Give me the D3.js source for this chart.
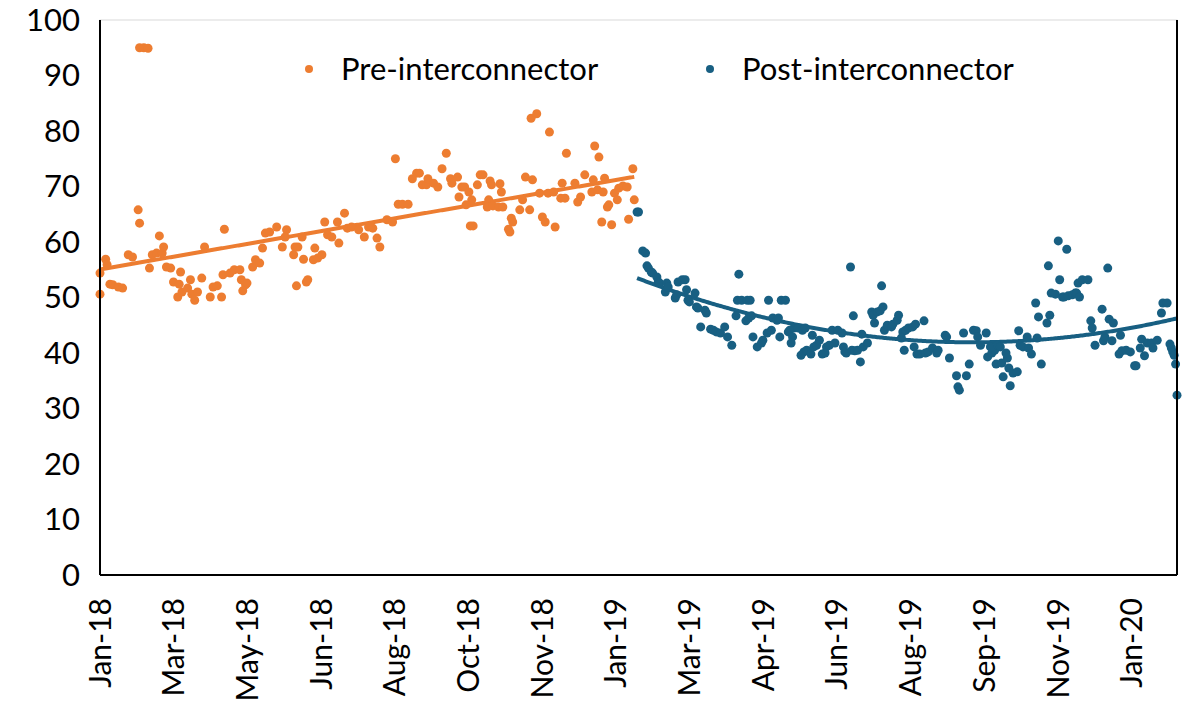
<!DOCTYPE html>
<html>
<head>
<meta charset="utf-8">
<script src="https://cdn.jsdelivr.net/npm/d3@7"></script>
<style>
  body { margin: 0; background: #fff; }
  svg { display: block; font-family: Lato, sans-serif; }
</style>
</head>
<body>
<svg id="chart" width="1189" height="704"></svg>
<script>
// x = days since 1 Jan 2018, y = price
const preData = [
  [0,50.6],[0,54.4],[4,56.9],[5,55.9],[7,52.4],[9,52.3],[13,51.9],[16,51.7],[20,57.7],[23,57.3],
  [27,65.8],[28,63.4],[28,95.0],[31,95.0],[34,94.9],[35,55.3],[37,57.7],[40,58.0],[44,58.0],[42,61.1],
  [45,59.1],[47,55.5],[50,55.3],[52,52.8],[57,54.6],[55,50.1],[58,51.0],[56,52.4],[64,53.2],[62,51.7],
  [65,50.6],[67,49.5],[69,51.0],[72,53.5],[74,59.1],[78,50.1],[80,51.9],[83,52.1],[86,50.1],[87,54.1],
  [88,62.3],[92,54.4],[95,55.0],[99,55.0],[100,53.2],[103,52.3],[104,52.6],[101,51.2],[108,55.5],[110,56.8],
  [113,56.2],[115,58.9],[117,61.6],[120,61.8],[125,62.7],[132,62.2],[131,60.9],[129,59.1],[138,59.1],[140,59.1],
  [137,57.7],[144,56.9],[143,60.9],[151,56.8],[154,57.1],[157,57.7],[152,58.9],[139,52.1],[146,52.8],[147,53.2],
  [159,63.6],[161,61.3],[164,60.9],[168,63.6],[173,65.2],[169,59.8],[175,62.5],[178,62.7],[183,62.2],[187,60.9],
  [190,62.7],[193,62.5],[196,60.7],[198,59.1],[203,64.0],[207,63.6],[209,75.0],[211,66.8],[214,66.8],[218,66.8],
  [221,71.4],[224,72.4],[226,72.4],[228,70.3],[231,70.3],[232,71.4],[236,70.6],[239,69.9],[242,73.2],[245,76.0],
  [248,71.4],[249,70.6],[253,71.7],[256,69.9],[254,68.1],[262,62.9],[258,69.9],[261,69.0],[263,67.6],[259,66.7],
  [267,70.3],[269,72.1],[271,72.1],[264,62.9],[276,71.0],[277,70.3],[275,67.6],[274,66.3],[278,66.5],[282,66.3],
  [285,66.3],[283,70.5],[284,69.0],[291,64.3],[292,63.6],[289,62.3],[290,61.8],[297,65.8],[299,67.6],[301,71.7],
  [306,71.2],[304,65.8],[305,82.3],[309,83.1],[313,64.5],[315,63.6],[318,79.8],[322,62.7],[311,68.8],[317,68.8],
  [321,69.0],[327,70.6],[326,67.9],[329,67.9],[330,76.0],[336,70.6],[340,68.1],[338,67.2],[343,72.1],[348,69.0],
  [352,69.4],[349,71.2],[350,77.3],[353,75.3],[357,71.5],[356,69.0],[359,66.3],[360,66.7],[355,63.6],[362,63.1],
  [364,68.8],[366,67.6],[367,69.7],[370,70.1],[373,69.9],[377,73.2],[378,67.6],[374,64.1]
];

const postData = [
  [380,65.4],[381,65.4],[384,58.4],[386,58.0],[387,55.7],[388,55.3],[390,54.6],[391,54.4],[394,53.7],[395,52.8],
  [396,52.6],[400,51.0],[401,52.6],[402,51.9],[407,49.9],[408,50.5],[409,52.8],[412,53.2],[414,53.2],[415,51.4],
  [416,49.5],[417,49.2],[421,50.8],[422,48.3],[423,48.1],[428,47.7],[429,47.2],[425,44.7],[432,44.3],[434,44.1],
  [436,43.8],[439,43.6],[442,44.7],[444,42.9],[447,41.4],[452,54.2],[451,49.5],[454,49.5],[458,49.5],[460,49.5],
  [450,46.7],[457,45.8],[459,46.3],[461,46.7],[462,42.9],[465,41.1],[468,41.8],[469,42.3],[473,49.5],[472,43.6],
  [475,44.1],[476,46.3],[479,45.9],[480,46.3],[481,42.9],[482,49.5],[485,49.5],[487,43.8],[488,44.1],[490,42.9],
  [489,41.8],[491,44.5],[494,44.5],[497,44.1],[499,44.5],[498,40.2],[496,39.6],[500,40.5],[504,43.2],[503,39.8],
  [505,41.1],[507,41.4],[509,42.3],[511,39.8],[513,40.0],[514,41.1],[516,41.4],[520,41.8],[518,44.1],[522,44.1],
  [525,43.6],[526,41.1],[527,40.2],[528,40.0],[531,55.5],[533,46.7],[532,40.5],[534,40.4],[536,40.5],[538,38.4],
  [540,41.1],[543,41.8],[539,43.4],[546,47.4],[547,46.8],[550,47.4],[552,47.6],[554,48.3],[548,45.4],[553,52.1],
  [555,44.1],[557,45.0],[560,44.7],[561,45.2],[564,45.9],[565,46.8],[568,43.8],[569,40.5],[570,44.1],[572,44.5],
  [575,44.7],[577,45.2],[567,42.7],[576,41.1],[578,39.8],[580,39.8],[584,40.0],[586,40.2],[583,45.8],[589,40.9],
  [592,40.0],[593,40.5],[598,43.2],[599,42.9],[601,39.1],[606,35.9],[607,33.9],[608,33.3],[611,43.6],[613,35.9],
  [615,38.0],[618,44.1],[620,44.0],[621,42.9],[623,41.4],[627,43.6],[628,39.3],[631,40.0],[633,40.5],[630,41.1],
  [635,41.4],[637,41.1],[634,38.0],[638,38.2],[642,39.1],[643,37.3],[641,40.0],[644,34.1],[639,35.7],[646,36.4],
  [649,36.6],[650,44.0],[651,41.4],[653,41.1],[656,42.9],[657,40.9],[659,39.8],[662,49.0],[664,46.5],[663,42.7],
  [666,38.0],[671,55.7],[670,45.4],[672,46.8],[673,50.8],[676,50.6],[678,60.2],[684,58.7],[679,53.2],[681,50.1],
  [682,50.1],[685,50.3],[688,50.5],[690,50.8],[691,50.8],[693,50.1],[692,52.6],[695,53.2],[699,53.2],[701,45.8],
  [702,44.5],[704,41.4],[709,47.9],[710,42.2],[711,42.9],[713,55.3],[714,46.1],[717,45.4],[716,42.2],[722,43.2],
  [721,39.8],[723,40.4],[726,40.5],[729,40.2],[732,37.7],[733,37.7],[736,40.9],[737,42.5],[739,39.5],[741,41.8],
  [744,41.8],[745,40.9],[748,42.3],[752,49.0],[755,49.0],[751,47.2],[757,41.6],[758,40.9],[759,40.2],[760,39.6],
  [761,38.0],[762,32.4]
];

const xTickLabels = ['Jan-18','Mar-18','May-18','Jun-18','Aug-18','Oct-18','Nov-18','Jan-19',
                     'Mar-19','Apr-19','Jun-19','Aug-19','Sep-19','Nov-19','Jan-20'];
const yTicks = [0, 10, 20, 30, 40, 50, 60, 70, 80, 90, 100];
const seriesNames = ['Pre-interconnector', 'Post-interconnector'];
const colors = ['#ED7D31', '#185F82'];

const svg = d3.select('#chart');
const plotLeft = 100, plotRight = 1177, plotTop = 20, plotBottom = 575;

const x = d3.scaleLinear().domain([0, 762]).range([plotLeft, plotRight]);
const y = d3.scaleLinear().domain([0, 100]).range([plotBottom, plotTop]);

// least squares polynomial fit (Excel style trendline)
function polyFit(data, order) {
  const n = order + 1;
  const A = Array.from({length: n}, () => new Array(n + 1).fill(0));
  data.forEach(([xv, yv]) => {
    for (let i = 0; i < n; i++) {
      for (let j = 0; j < n; j++) A[i][j] += Math.pow(xv, i + j);
      A[i][n] += yv * Math.pow(xv, i);
    }
  });
  // gaussian elimination
  for (let i = 0; i < n; i++) {
    let p = i;
    for (let k = i + 1; k < n; k++) if (Math.abs(A[k][i]) > Math.abs(A[p][i])) p = k;
    [A[i], A[p]] = [A[p], A[i]];
    for (let k = i + 1; k < n; k++) {
      const f = A[k][i] / A[i][i];
      for (let j = i; j <= n; j++) A[k][j] -= f * A[i][j];
    }
  }
  const c = new Array(n).fill(0);
  for (let i = n - 1; i >= 0; i--) {
    let s = A[i][n];
    for (let j = i + 1; j < n; j++) s -= A[i][j] * c[j];
    c[i] = s / A[i][i];
  }
  return xv => c.reduce((s, ci, i) => s + ci * Math.pow(xv, i), 0);
}

// plot frame
svg.append('rect')
  .attr('x', plotLeft).attr('y', plotTop)
  .attr('width', plotRight - plotLeft).attr('height', plotBottom - plotTop)
  .attr('fill', 'none').attr('stroke', '#d9d9d9').attr('stroke-width', 1);

// y axis labels
svg.append('g')
  .selectAll('text')
  .data(yTicks)
  .enter()
  .append('text')
  .attr('x', 80)
  .attr('y', d => y(d))
  .attr('dy', '0.35em')
  .attr('text-anchor', 'end')
  .style('font-size', '31px')
  .text(d => d);

// x axis labels
const tickDays = xTickLabels.map((d, i) => i * 365 / 7);
svg.append('g')
  .selectAll('text')
  .data(xTickLabels)
  .enter()
  .append('text')
  .attr('transform', (d, i) => `translate(${x(tickDays[i])},598) rotate(-90)`)
  .attr('dy', '0.35em')
  .attr('text-anchor', 'end')
  .style('font-size', '30px')
  .text(d => d);

// trendlines
const seriesList = [preData, postData];
const orders = [1, 2];
seriesList.forEach((data, k) => {
  const f = polyFit(data, orders[k]);
  const ext = d3.extent(data, d => d[0]);
  const pts = d3.range(ext[0], ext[1] + 0.5, 1).map(d => [d, f(d)]);
  svg.append('path')
    .datum(pts)
    .attr('fill', 'none')
    .attr('stroke', colors[k])
    .attr('stroke-width', 4)
    .attr('d', d3.line().x(d => x(d[0])).y(d => y(d[1])));
});

// scatter points
seriesList.forEach((data, k) => {
  svg.append('g')
    .selectAll('circle')
    .data(data)
    .enter()
    .append('circle')
    .attr('cx', d => x(d[0]))
    .attr('cy', d => y(d[1]))
    .attr('r', 4.5)
    .attr('fill', colors[k]);
});

// axis lines
svg.append('line').attr('x1', plotLeft).attr('x2', plotLeft).attr('y1', plotTop).attr('y2', plotBottom)
  .attr('stroke', '#000').attr('stroke-width', 2);
svg.append('line').attr('x1', plotLeft).attr('x2', plotRight).attr('y1', plotBottom).attr('y2', plotBottom)
  .attr('stroke', '#000').attr('stroke-width', 2);
svg.append('line').attr('x1', plotRight).attr('x2', plotRight).attr('y1', plotTop).attr('y2', plotBottom)
  .attr('stroke', '#000').attr('stroke-width', 2);

// legend
const legendX = [309, 710];
const legend = svg.append('g')
  .selectAll('g')
  .data(seriesNames)
  .enter()
  .append('g')
  .attr('transform', (d, i) => `translate(${legendX[i]},69)`);
legend.append('circle').attr('r', 4).attr('fill', (d, i) => colors[i]);
legend.append('text')
  .attr('x', 32)
  .attr('dy', '0.35em')
  .style('font-size', '31px')
  .text(d => d);
</script>
</body>
</html>
